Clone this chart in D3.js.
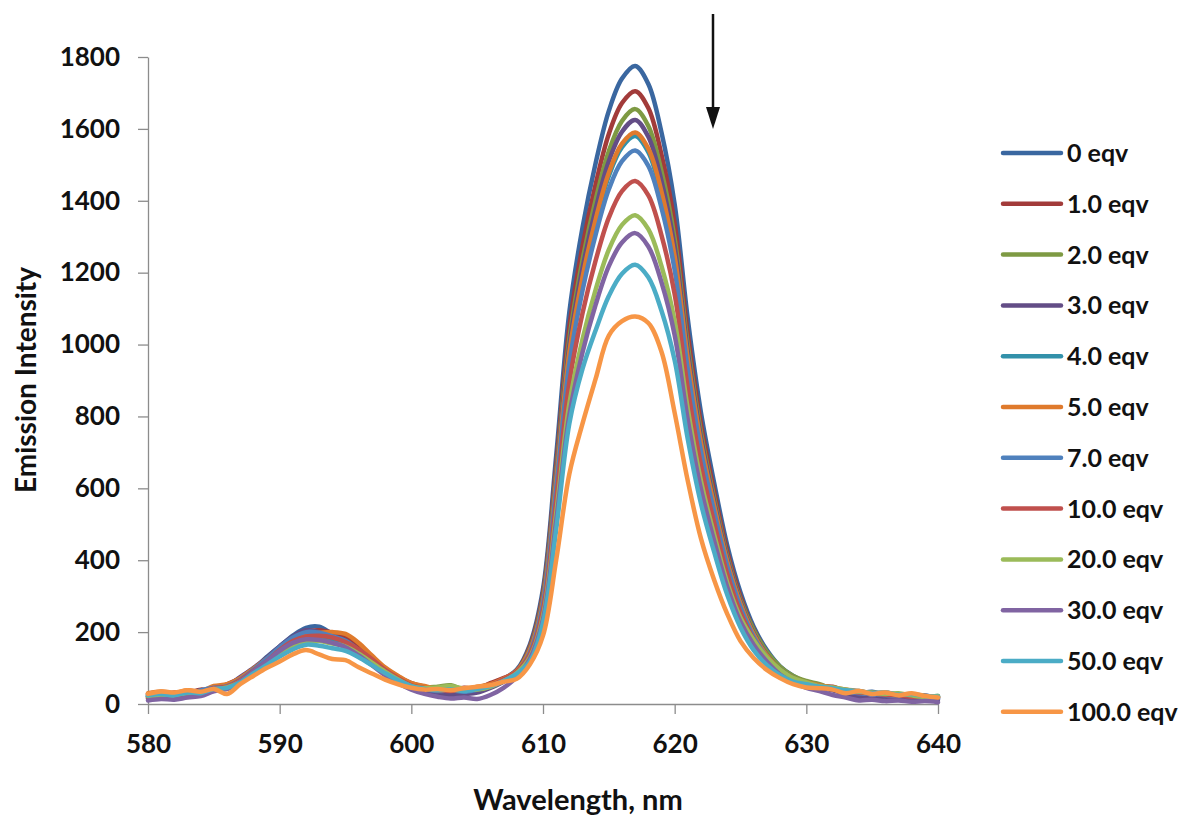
<!DOCTYPE html>
<html>
<head>
<meta charset="utf-8">
<script src="https://cdn.jsdelivr.net/npm/d3@7"></script>
<style>
  body { margin: 0; background: #ffffff; }
  svg { display: block; }
  text { font-family: Lato, "Open Sans", sans-serif; font-weight: 700; fill: #111111; }
</style>
</head>
<body>
<svg id="chart" width="1182" height="816"></svg>
<script>
// Emission spectra, one reading per nanometre from 580 to 640 nm
const wavelengths = [580,581,582,583,584,585,586,587,588,589,590,591,592,593,594,595,596,597,598,599,
  600,601,602,603,604,605,606,607,608,609,610,611,612,613,614,615,616,617,618,619,
  620,621,622,623,624,625,626,627,628,629,630,631,632,633,634,635,636,637,638,639,640];

const eqv0 = [22,30,26,35,30,48,42,68,95,130, 160,190,212,215,195,180,150,125,95,70,
  52,45,38,42,35,45,55,70,95,165, 320,690,1090,1325,1505,1650,1740,1775,1725,1590,
  1390,1070,810,615,440,310,215,150,105,78, 60,52,45,38,30,34,25,28,20,24,15];
const eqv1 = [28,22,32,30,40,38,55,72,98,122, 155,182,200,205,198,185,158,128,100,76,
  58,48,42,38,45,42,58,72,92,160, 308,663,1048,1273,1446,1586,1672,1705,1658,1528,
  1336,1028,778,591,423,298,207,144,101,76, 62,50,48,36,35,28,30,22,25,18,20];
const eqv2 = [20,28,22,30,36,45,48,65,90,118, 145,170,185,185,178,168,148,122,95,72,
  55,46,48,52,40,45,52,68,90,155, 298,643,1016,1235,1403,1538,1622,1655,1608,1482,
  1295,997,755,573,410,289,205,145,104,78, 64,55,42,40,32,30,26,25,22,20,18];
const eqv3 = [15,20,18,25,30,42,50,75,100,128, 160,188,205,200,190,175,150,122,92,68,
  48,38,30,25,28,32,45,62,88,152, 293,631,997,1212,1377,1510,1592,1625,1578,1455,
  1272,979,741,563,403,284,197,137,96,72, 55,45,38,28,20,15,18,12,15,10,12];
const eqv4 = [25,32,28,22,35,40,52,70,95,120, 150,175,190,192,182,170,145,118,90,70,
  52,42,38,40,36,44,50,66,88,148, 285,614,970,1179,1339,1469,1549,1580,1535,1415,
  1237,952,721,547,392,276,191,134,95,72, 58,48,45,35,32,30,28,24,26,20,22];
const eqv5 = [30,35,30,38,35,50,55,72,98,125, 155,180,195,198,200,195,170,135,102,78,
  58,50,42,45,40,48,55,70,92,150, 287,618,977,1187,1348,1478,1559,1590,1545,1425,
  1245,959,726,551,394,278,193,135,95,72, 60,52,46,40,36,30,32,26,24,22,20];
const eqv7 = [20,25,30,28,38,45,50,68,95,125, 158,185,200,198,188,176,150,122,94,70,
  50,42,36,38,34,40,50,66,88,143, 278,599,946,1150,1306,1432,1510,1540,1497,1380,
  1207,929,703,534,382,269,187,130,92,70, 56,48,42,36,30,28,25,22,24,18,16];
const eqv10 = [18,24,20,30,32,44,48,66,92,118, 150,175,188,190,185,172,152,125,95,72,
  52,44,38,36,40,42,52,68,90,138, 262,566,894,1087,1234,1353,1427,1455,1415,1304,
  1140,877,664,504,361,254,180,128,92,70, 58,50,44,38,32,30,26,24,20,22,18];
const eqv20 = [22,18,25,30,28,40,46,62,88,112, 140,162,172,175,168,160,140,115,90,68,
  50,44,46,50,42,40,48,64,86,130, 245,529,835,1015,1153,1264,1333,1360,1321,1218,
  1065,820,620,471,337,240,178,130,96,72, 60,50,46,40,34,32,28,30,24,20,22];
const eqv30 = [10,14,12,18,22,35,42,62,90,118, 148,170,180,178,170,158,135,108,80,58,
  40,28,20,15,18,14,25,45,75,125, 236,509,804,978,1111,1218,1284,1310,1273,1173,
  1026,790,598,454,325,229,165,118,82,60, 45,36,25,18,10,12,8,10,6,8,5];
const eqv50 = [24,28,24,32,30,42,45,60,85,108, 132,152,165,162,155,148,130,108,86,66,
  50,42,38,40,36,42,50,64,84,118, 225,485,780,932,1040,1135,1197,1222,1187,1094,
  956,736,557,423,303,213,150,108,80,62, 55,48,44,38,36,30,32,26,28,22,20];
const eqv100 = [28,35,32,38,34,42,28,55,78,100, 118,138,150,138,125,122,102,85,68,55,
  45,40,42,38,44,48,52,62,70,110, 190,400,640,780,905,1025,1065,1078,1060,980,
  810,620,460,345,250,175,128,95,72,55, 46,44,40,30,36,28,32,24,30,22,18];

const seriesLabels = ["0 eqv","1.0 eqv","2.0 eqv","3.0 eqv","4.0 eqv","5.0 eqv",
  "7.0 eqv","10.0 eqv","20.0 eqv","30.0 eqv","50.0 eqv","100.0 eqv"];
const seriesValues = [eqv0,eqv1,eqv2,eqv3,eqv4,eqv5,eqv7,eqv10,eqv20,eqv30,eqv50,eqv100];
const seriesColors = ["#3a67a0","#a23b3a","#7e9a43","#634d86","#3291aa","#df7a2c",
  "#4f81bd","#c0504d","#9bbb59","#8064a2","#4bacc6","#f79646"];

const xTicks = [580,590,600,610,620,630,640];
const yTicks = [0,200,400,600,800,1000,1200,1400,1600,1800];

const svg = d3.select("#chart");

const x = d3.scaleLinear().domain([580, 640]).range([148, 938]);
const y = d3.scaleLinear().domain([0, 1800]).range([704, 57]);

// Axes
const yAxis = svg.append("g")
  .attr("transform", `translate(${x(580)},0)`)
  .call(d3.axisLeft(y).tickValues(yTicks).tickFormat(d3.format("d"))
    .tickSize(10).tickSizeOuter(0).tickPadding(18));
const xAxis = svg.append("g")
  .attr("transform", `translate(0,${y(0)})`)
  .call(d3.axisBottom(x).tickValues(xTicks).tickFormat(d3.format("d"))
    .tickSize(10).tickSizeOuter(0).tickPadding(21));

[yAxis, xAxis].forEach(g => {
  g.selectAll("path.domain").attr("stroke", "#8c8c8c").attr("stroke-width", 1.3);
  g.selectAll(".tick line").attr("stroke", "#8c8c8c").attr("stroke-width", 1.3);
  g.selectAll(".tick text")
    .attr("fill", "#111")
    .style("font-family", "Lato, 'Open Sans', sans-serif")
    .style("font-weight", 700)
    .style("font-size", "26px");
});

// Spectra, later series drawn over earlier ones
const line = d3.line()
  .x((d, i) => x(wavelengths[i]))
  .y(d => y(d))
  .curve(d3.curveCatmullRom.alpha(0.5));

svg.append("g")
  .selectAll("path")
  .data(seriesValues)
  .join("path")
  .attr("d", d => line(d))
  .attr("fill", "none")
  .attr("stroke", (d, i) => seriesColors[i])
  .attr("stroke-width", 4.5)
  .attr("stroke-linejoin", "round")
  .attr("stroke-linecap", "round");

// Axis titles
svg.append("text")
  .attr("x", 578).attr("y", 810)
  .attr("text-anchor", "middle")
  .style("font-size", "29px")
  .text("Wavelength, nm");

svg.append("text")
  .attr("transform", "translate(36,380) rotate(-90)")
  .attr("text-anchor", "middle")
  .style("font-size", "28px")
  .text("Emission Intensity");

// Legend
const legend = svg.append("g");
const rowY = i => 153 + i * 50.8;
legend.selectAll("line")
  .data(seriesLabels)
  .join("line")
  .attr("x1", 1003).attr("x2", 1061)
  .attr("y1", (d, i) => rowY(i)).attr("y2", (d, i) => rowY(i))
  .attr("stroke", (d, i) => seriesColors[i])
  .attr("stroke-width", 4.5)
  .attr("stroke-linecap", "round");
legend.selectAll("text")
  .data(seriesLabels)
  .join("text")
  .attr("x", 1067)
  .attr("y", (d, i) => rowY(i))
  .attr("dy", "0.36em")
  .style("font-size", "25px")
  .text(d => d);

// Downward arrow marking the decrease in intensity
svg.append("line")
  .attr("x1", 713).attr("x2", 713)
  .attr("y1", 14).attr("y2", 112)
  .attr("stroke", "#111").attr("stroke-width", 2.5);
svg.append("path")
  .attr("d", d3.line()([[706, 107], [720, 107], [713, 129]]) + "Z")
  .attr("fill", "#111");
</script>
</body>
</html>
